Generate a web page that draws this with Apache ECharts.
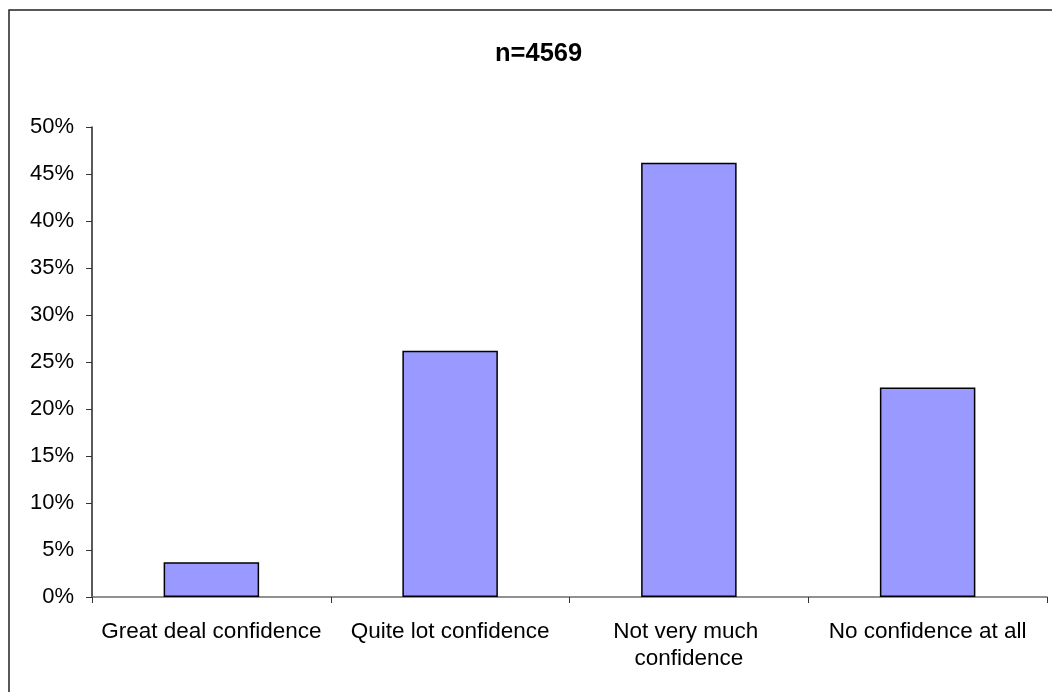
<!DOCTYPE html>
<html>
<head>
<meta charset="utf-8">
<style>
  html, body { margin: 0; padding: 0; background: #fff; }
  #chart { width: 1052px; height: 692px; }
</style>
<script src="https://cdn.jsdelivr.net/npm/echarts@6/dist/echarts.min.js"></script>
</head>
<body>
<div id="chart"></div>
<script>
// Survey responses: share of respondents by confidence level
const titleText = 'n=4569';
const categories = ['Great deal confidence', 'Quite lot confidence', 'Not very much confidence', 'No confidence at all'];
const shares = [3.7, 26.2, 46.2, 22.3];
const yTicks = { min: 0, max: 50, step: 5 };

const FONT = '"Liberation Sans", Arial, sans-serif';

const chart = echarts.init(document.getElementById('chart'), null, { renderer: 'canvas' });
chart.setOption({
  backgroundColor: '#ffffff',
  animation: false,
  title: {
    text: titleText,
    left: 490,
    top: 36,
    textStyle: { fontFamily: FONT, fontSize: 25.5, fontWeight: 'bold', color: '#000' }
  },
  graphic: [{
    type: 'rect',
    shape: { x: 9, y: 10, width: 1200, height: 900 },
    style: { fill: 'none', stroke: '#222', lineWidth: 1.5 },
    silent: true
  }],
  grid: { left: 92, right: 5, top: 127, bottom: 95, containLabel: false },
  xAxis: {
    type: 'category',
    data: categories,
    boundaryGap: true,
    axisLine: { lineStyle: { color: '#6e6e6e', width: 1.5 } },
    axisTick: { show: true, length: 6, lineStyle: { color: '#333', width: 1 } },
    axisLabel: {
      interval: 0,
      margin: 21,
      width: 236,
      overflow: 'break',
      lineHeight: 27,
      fontFamily: FONT,
      fontSize: 22.5,
      color: '#000'
    },
    splitLine: { show: false }
  },
  yAxis: {
    type: 'value',
    min: yTicks.min,
    max: yTicks.max,
    interval: yTicks.step,
    axisLine: { show: true, lineStyle: { color: '#222', width: 1.5 } },
    axisTick: { show: true, length: 6, lineStyle: { color: '#333', width: 1 } },
    axisLabel: {
      formatter: '{value}%',
      margin: 18,
      fontFamily: FONT,
      fontSize: 22,
      color: '#000'
    },
    splitLine: { show: false }
  },
  series: [{
    type: 'bar',
    data: shares,
    barWidth: '40%',
    itemStyle: { color: '#9999ff', borderColor: '#000', borderWidth: 1.5 }
  }]
});
</script>
</body>
</html>
